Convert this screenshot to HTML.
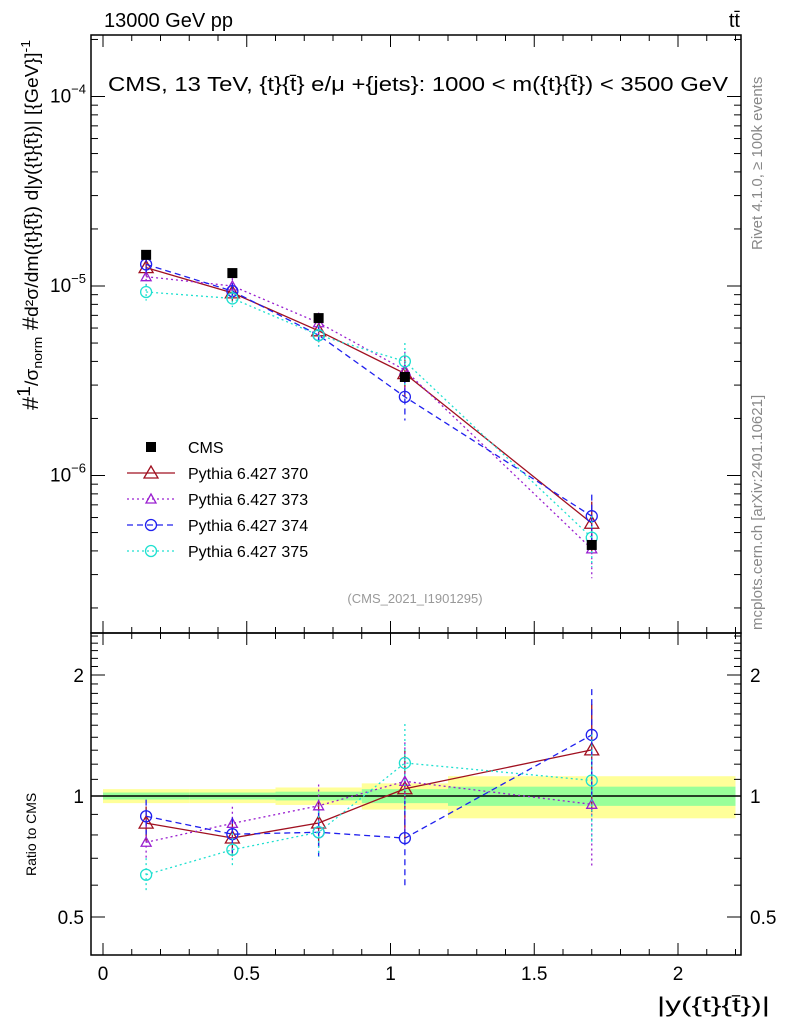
<!DOCTYPE html>
<html><head><meta charset="utf-8"><style>
body{margin:0;background:#fff}
svg{display:block;font-family:"Liberation Sans",sans-serif}
</style></head><body>
<svg id="chart" width="786" height="1024" viewBox="0 0 786 1024" xmlns="http://www.w3.org/2000/svg">
<rect width="786" height="1024" fill="#fff"/>
<g id="bands"></g>
<g id="axes"></g>
<g id="series"></g>
<text x="104" y="27" font-size="20">13000 GeV pp</text>
<text x="740" y="27" font-size="20" text-anchor="end">tt̄</text>
<text x="418" y="91" font-size="20" text-anchor="middle" textLength="620" lengthAdjust="spacingAndGlyphs">CMS, 13 TeV, {t}{t̄} e/μ +{jets}: 1000 &lt; m({t}{t̄}) &lt; 3500 GeV</text>
<text x="415" y="603" font-size="13" fill="#999" text-anchor="middle">(CMS_2021_I1901295)</text>
<text transform="translate(762,250) rotate(-90)" font-size="15" fill="#888">Rivet 4.1.0, ≥ 100k events</text>
<text transform="translate(762,630) rotate(-90)" font-size="15" fill="#888">mcplots.cern.ch [arXiv:2401.10621]</text>
<text transform="translate(38,410) rotate(-90)" font-size="22" textLength="370" lengthAdjust="spacingAndGlyphs">#<tspan font-size="18" dy="-8">1</tspan><tspan font-size="18" dy="8">/σ</tspan><tspan font-size="13" dy="4">norm</tspan><tspan dy="-4"> #</tspan><tspan font-size="18">d²σ/dm({t}{t̄}) d|y({t}{t̄})| [{GeV}]</tspan><tspan font-size="13" dy="-8">-1</tspan></text>
<text transform="translate(36,876) rotate(-90)" font-size="14">Ratio to CMS</text>
<text x="770" y="1012" font-size="21" text-anchor="end" textLength="113" lengthAdjust="spacingAndGlyphs">|y({t}{t̄})|</text>
<g id="legend"></g>
</svg>
<script>
const xCenters=[0.15,0.45,0.75,1.05,1.7];
const cmsVals=[1.46e-5,1.17e-5,6.77e-6,3.31e-6,4.3e-7];
const p370=[1.25e-5,9.2e-6,5.8e-6,3.45e-6,5.6e-7];
const p373=[1.12e-5,1.0e-5,6.4e-6,3.6e-6,4.1e-7];
const p374=[1.3e-5,9.4e-6,5.5e-6,2.6e-6,6.1e-7];
const p375=[9.3e-6,8.6e-6,5.5e-6,4.0e-6,4.7e-7];
const relErr=[0.1,0.1,0.13,0.25,0.3];
const binEdges=[0,0.3,0.6,0.9,1.2,2.2];
const bandYellow=[0.04,0.04,0.05,0.075,0.12];
const bandGreen=[0.02,0.02,0.025,0.04,0.055];
const xTicks=[0,0.5,1,1.5,2];
const mainTicks=[-4,-5,-6];
const ratioTicks=[0.5,1,2];

const NS="http://www.w3.org/2000/svg";
const L=91,R=741,T=35,M=633,B=955;
const X=v=>103+v*287.5;
const Ym=v=>286-(Math.log10(v)+5)*189.5;
const Yr=v=>796-Math.log2(v)*121;
function mk(p,tag,a){const e=document.createElementNS(NS,tag);for(const k in a)e.setAttribute(k,a[k]);p.appendChild(e);return e;}
const axes=document.getElementById('axes'),bands=document.getElementById('bands'),ser=document.getElementById('series'),leg=document.getElementById('legend');

for(let i=0;i<binEdges.length-1;i++){
 let r=mk(bands,'rect',{x:X(binEdges[i]),width:X(binEdges[i+1])-X(binEdges[i]),y:Yr(1+bandYellow[i]),height:Yr(1-bandYellow[i])-Yr(1+bandYellow[i]),fill:'#ffff99'});
 
 
 let g=mk(bands,'rect',{x:X(binEdges[i]),width:X(binEdges[i+1])-X(binEdges[i]),y:Yr(1+bandGreen[i]),height:Yr(1-bandGreen[i])-Yr(1+bandGreen[i]),fill:'#99ff99'});
 
 
}
mk(axes,'line',{x1:L,x2:R,y1:Yr(1),y2:Yr(1),stroke:'#000','stroke-width':1.5});
mk(axes,'rect',{x:L,y:T,width:R-L,height:M-T,fill:'none',stroke:'#000','stroke-width':1.5});
mk(axes,'rect',{x:L,y:M,width:R-L,height:B-M,fill:'none',stroke:'#000','stroke-width':1.5});
for(let v=0;v<=2.21;v+=0.1){const big=Math.abs(v*2-Math.round(v*2))<1e-6;const x=X(v);const l=big?12:6;
 for(const [y0,d] of [[B,-1],[M,-1],[T,1]]) mk(axes,'line',{x1:x,x2:x,y1:y0,y2:y0+d*l,stroke:'#000'});
 mk(axes,'line',{x1:x,x2:x,y1:M,y2:M+l,stroke:'#000'});}
xTicks.forEach(v=>{const t=mk(axes,'text',{x:X(v),y:980,'font-size':19,'text-anchor':'middle'});t.textContent=v;
 
 });
for(let d=-7;d<=-4;d++)for(let m=1;m<10;m++){const y=Ym(m*Math.pow(10,d));if(y<T||y>M)continue;const l=m==1?14:7;
 mk(axes,'line',{x1:L,x2:L+l,y1:y,y2:y,stroke:'#000'});mk(axes,'line',{x1:R,x2:R-l,y1:y,y2:y,stroke:'#000'});}
mainTicks.forEach(d=>{const t=mk(axes,'text',{x:86,y:Ym(Math.pow(10,d))+6,'font-size':19,'text-anchor':'end'});
 t.innerHTML='10<tspan font-size="13" dy="-9">−'+(-d)+'</tspan>';
 
 });
for(const v of [0.5,0.6,0.7,0.8,0.9,1,1.1,1.2,1.3,1.4,1.5,1.6,1.7,1.8,1.9,2,2.1,2.2,2.3,2.4,2.5]){const y=Yr(v);if(y<M||y>B)continue;const l=(v==0.5||v==1||v==2)?14:7;
 mk(axes,'line',{x1:L,x2:L+l,y1:y,y2:y,stroke:'#000'});mk(axes,'line',{x1:R,x2:R-l,y1:y,y2:y,stroke:'#000'});}
ratioTicks.forEach(v=>{for(const [x,a] of [[84,'end'],[750,'start']]){const t=mk(axes,'text',{x:x,y:Yr(v)+7,'font-size':19,'text-anchor':a});t.textContent=v;
 
 }});

function marker(g,type,x,y,c){
 if(type=='sq')mk(g,'rect',{x:x-5,y:y-5,width:10,height:10,fill:'#000'});
 else if(type=='tri')mk(g,'polygon',{points:`${x},${y-7} ${x-7},${y+5} ${x+7},${y+5}`,fill:'none',stroke:c,'stroke-width':1.3});
 else if(type=='stri')mk(g,'polygon',{points:`${x},${y-5} ${x-5},${y+4} ${x+5},${y+4}`,fill:'none',stroke:c,'stroke-width':1.3});
 else mk(g,'circle',{cx:x,cy:y,r:5.5,fill:'none',stroke:c,'stroke-width':1.3});
}
const models=[['Pythia 6.427 370',p370,'#a01020','','tri'],['Pythia 6.427 373',p373,'#9a20d0','2,3','stri'],['Pythia 6.427 374',p374,'#2020ee','6,4','circ'],['Pythia 6.427 375',p375,'#20e0d0','2,3','circ']];
models.forEach(([name,vals,c,dash,mt],k)=>{
 const g=mk(ser,'g',{});
 
 
 const base={stroke:c,fill:'none','stroke-width':1.3};if(dash)base['stroke-dasharray']=dash;
 mk(g,'polyline',Object.assign({points:xCenters.map((x,i)=>X(x)+','+Ym(vals[i])).join(' ')},base));
 mk(g,'polyline',Object.assign({points:xCenters.map((x,i)=>X(x)+','+Yr(vals[i]/cmsVals[i])).join(' ')},base));
 xCenters.forEach((x,i)=>{const e=relErr[i];const v=vals[i],r=v/cmsVals[i];
  mk(g,'line',Object.assign({x1:X(x),x2:X(x),y1:Ym(v*(1+e)),y2:Ym(v*(1-e))},base));
  mk(g,'line',Object.assign({x1:X(x),x2:X(x),y1:Yr(r*(1+e)),y2:Yr(r*(1-e))},base));
  marker(g,mt,X(x),Ym(v),c);marker(g,mt,X(x),Yr(r),c);});
 const ly=473+k*26;
 mk(leg,'line',Object.assign({x1:127,x2:175,y1:ly,y2:ly},base));marker(leg,mt,151,ly,c);
 const t=mk(leg,'text',{x:188,y:ly+6,'font-size':16});t.textContent=name;
 
 
});
const cg=mk(ser,'g',{});


xCenters.forEach((x,i)=>{mk(cg,'line',{x1:X(x),x2:X(x),y1:Ym(cmsVals[i]*1.05),y2:Ym(cmsVals[i]*0.95),stroke:'#000'});marker(cg,'sq',X(x),Ym(cmsVals[i]));});
marker(leg,'sq',151,447);
const ct=mk(leg,'text',{x:188,y:453,'font-size':16});ct.textContent='CMS';


</script>
</body></html>
